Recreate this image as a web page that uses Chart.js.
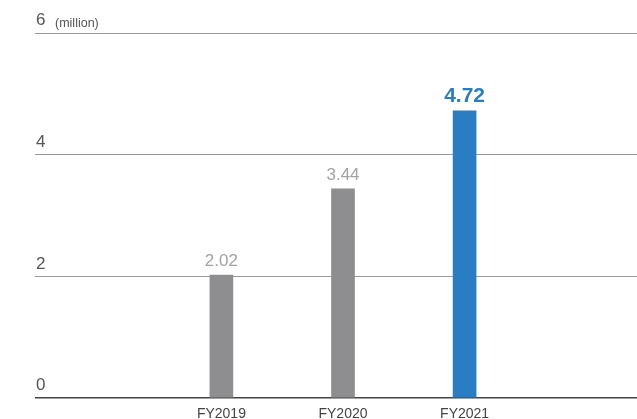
<!DOCTYPE html>
<html>
<head>
<meta charset="utf-8">
<script src="https://cdn.jsdelivr.net/npm/chart.js@4/dist/chart.umd.min.js"></script>
<style>
  html, body { margin: 0; padding: 0; background: #ffffff; overflow: hidden; }
  #wrap { width: 637px; height: 419px; overflow: hidden; }
  canvas { display: block; }
</style>
</head>
<body>
<div id="wrap"><canvas id="c" width="647" height="419"></canvas></div>
<script>
const categories = ['', 'FY2019', 'FY2020', 'FY2021', ''];
const values = [null, 2.02, 3.44, 4.72, null];
const valueLabels = ['', '2.02', '3.44', '4.72', ''];
const yTicks = [0, 2, 4, 6];
const unitLabel = '(million)';

const FONT = '"Liberation Sans", Arial, Helvetica, sans-serif';
const GRAY_BAR = '#8e8e90';
const BLUE_BAR = '#2a7dc3';
const highlight = 3;

const valueLabelPlugin = {
  id: 'valueLabels',
  afterDatasetsDraw(chart) {
    const ctx = chart.ctx;
    const meta = chart.getDatasetMeta(0);
    ctx.save();
    ctx.textAlign = 'center';
    ctx.textBaseline = 'alphabetic';
    meta.data.forEach((bar, i) => {
      if (values[i] == null) return;
      if (i === highlight) {
        ctx.font = 'bold 21px ' + FONT;
        ctx.fillStyle = BLUE_BAR;
      } else {
        ctx.font = '17px ' + FONT;
        ctx.fillStyle = '#a2a2a4';
      }
      ctx.fillText(valueLabels[i], bar.x, bar.y - 9);
    });
    const ys = chart.scales.y;
    ctx.font = '12.5px ' + FONT;
    ctx.fillStyle = '#555555';
    ctx.textAlign = 'left';
    ctx.textBaseline = 'middle';
    ctx.fillText(unitLabel, chart.chartArea.left + 16, ys.getPixelForValue(yTicks[yTicks.length - 1]) - 9.5);
    ctx.restore();
  }
};

new Chart(document.getElementById('c'), {
  type: 'bar',
  data: {
    labels: categories,
    datasets: [{
      data: values,
      backgroundColor: categories.map((c, i) => i === highlight ? BLUE_BAR : GRAY_BAR),
      barThickness: 23,
      borderWidth: 0
    }]
  },
  options: {
    responsive: false,
    devicePixelRatio: 1,
    animation: false,
    layout: { padding: { left: 35, right: 0, top: 33, bottom: 0 } },
    plugins: { legend: { display: false }, tooltip: { enabled: false } },
    scales: {
      x: {
        afterFit(scale) { scale.height = 21; },
        grid: { display: false, drawTicks: false },
        border: { display: false },
        ticks: {
          padding: 8,
          color: '#444444',
          font: { family: FONT, size: 14 },
          maxRotation: 0,
          autoSkip: false
        }
      },
      y: {
        min: 0,
        max: 6,
        afterFit(scale) { scale.width = 4; },
        afterBuildTicks(scale) { scale.ticks = yTicks.map(v => ({ value: v })); },
        border: { display: false },
        grid: {
          drawTicks: true,
          tickLength: 4,
          color: ctx => (ctx.tick && ctx.tick.value === 0) ? '#444444' : '#9a9a9a',
          tickColor: ctx => (ctx.tick && ctx.tick.value === 0) ? '#444444' : '#9a9a9a',
          lineWidth: ctx => (ctx.tick && ctx.tick.value === 0) ? 1.5 : 1
        },
        ticks: {
          mirror: true,
          padding: -3,
          labelOffset: -12.5,
          color: '#555555',
          font: { family: FONT, size: 17 },
          callback: v => String(v)
        }
      }
    }
  },
  plugins: [valueLabelPlugin]
});
</script>
</body>
</html>
